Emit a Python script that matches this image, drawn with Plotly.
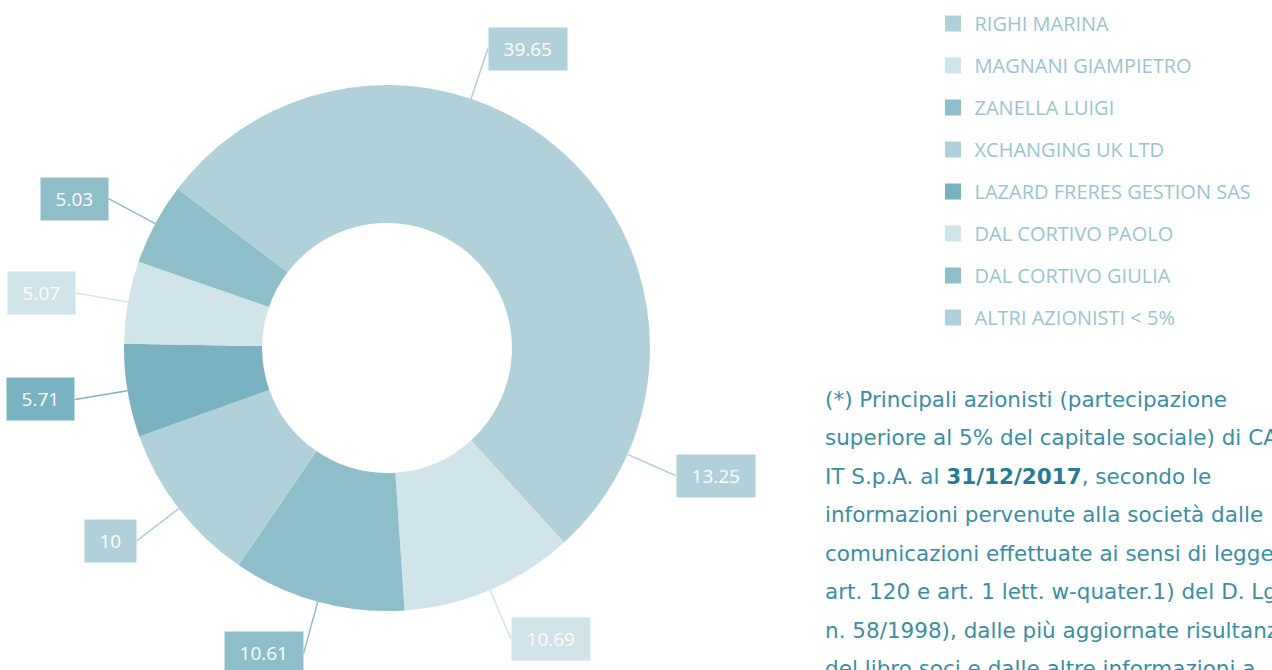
import math
import plotly.graph_objects as go

# ---- data ----
labels = ["RIGHI MARINA", "MAGNANI GIAMPIETRO", "ZANELLA LUIGI", "XCHANGING UK LTD",
          "LAZARD FRERES GESTION SAS", "DAL CORTIVO PAOLO", "DAL CORTIVO GIULIA",
          "ALTRI AZIONISTI < 5%"]
values = [13.25, 10.69, 10.61, 10, 5.71, 5.07, 5.03, 39.65]
value_text = ["13.25", "10.69", "10.61", "10", "5.71", "5.07", "5.03", "39.65"]
colors = ["#b0d1d9", "#d0e4e9", "#8fbecb", "#b0d1d9", "#7ab2c2", "#d0e4e9", "#8fbecb", "#b0d1d9"]

note_lines = [
    "(*) Principali azionisti (partecipazione",
    "superiore al 5% del capitale sociale) di CAD",
    "IT S.p.A. al <b><span style='color:#2a7b91'>31/12/2017</span></b>, secondo le",
    "informazioni pervenute alla società dalle",
    "comunicazioni effettuate ai sensi di legge (ex",
    "art. 120 e art. 1 lett. w-quater.1) del D. Lgs.",
    "n. 58/1998), dalle più aggiornate risultanze",
    "del libro soci e dalle altre informazioni a",
]

# ---- layout geometry ----
W, H = 1272, 670
dom_x = [124 / W, 650 / W]
dom_y = [(H - 611) / H, (H - 85) / H]
cx = (dom_x[0] + dom_x[1]) / 2 * W
cy = H - (dom_y[0] + dom_y[1]) / 2 * H
r_out = min((dom_x[1] - dom_x[0]) * W, (dom_y[1] - dom_y[0]) * H) / 2
r_lab = r_out + 53
LBL_SIZE = 19


def est_width(t):
    return LBL_SIZE * sum(0.267 if ch == "." else 0.572 for ch in t) + 13


fig = go.Figure()
fig.add_trace(go.Pie(
    labels=labels, values=values, sort=False, direction="clockwise", rotation=90,
    hole=0.475, textinfo="none", hoverinfo="label+value",
    marker=dict(colors=colors, line=dict(width=0)),
    domain=dict(x=dom_x, y=dom_y), showlegend=False,
))

# legend entries (one group per slice to control spacing)
for lab, col in zip(labels, colors):
    fig.add_trace(go.Scatter(
        x=[None], y=[None], mode="markers", name=lab, legendgroup=lab,
        marker=dict(symbol="square", size=20, color=col, line=dict(width=0)),
        hoverinfo="skip",
    ))

annotations = []
total = sum(values)
cum = 0.0
for v, t, col in zip(values, value_text, colors):
    mid = (cum + v / 2) / total * 2 * math.pi  # clockwise from east (screen)
    cum += v
    c, s = math.cos(mid), math.sin(mid)
    hx, hy = cx + r_out * c, cy + r_out * s
    annotations.append(dict(
        x=hx / W, y=1 - hy / H, xref="paper", yref="paper",
        ax=(r_lab - r_out) * c, ay=(r_lab - r_out) * s, axref="pixel", ayref="pixel",
        showarrow=True, arrowhead=0, arrowwidth=1.5, arrowcolor=col,
        text=t, font=dict(family="Open Sans", size=LBL_SIZE, color="#ffffff"),
        bgcolor=col, borderpad=8, width=est_width(t),
        xanchor="left" if c >= 0 else "right", yanchor="middle",
    ))

for i, line in enumerate(note_lines):
    annotations.append(dict(
        x=823 / W, y=1 - (399 + 38.5 * i) / H, xref="paper", yref="paper",
        xanchor="left", yanchor="middle", showarrow=False, align="left",
        text=line, font=dict(family="DejaVu Sans", size=21.5, color="#3d8da3"),
    ))

fig.update_layout(
    width=W, height=H, margin=dict(l=0, r=0, t=0, b=0),
    paper_bgcolor="white", plot_bgcolor="white",
    xaxis=dict(visible=False), yaxis=dict(visible=False),
    showlegend=True,
    legend=dict(x=931.5 / W, y=0.994, xanchor="left", yanchor="top", itemwidth=33,
                tracegroupgap=13, font=dict(family="Open Sans", size=20, color="#9cc4cd"),
                bgcolor="rgba(0,0,0,0)"),
    annotations=annotations,
)

fig.write_html("out.html", config={"displayModeBar": False},
               post_script="document.body.style.margin='0';")
